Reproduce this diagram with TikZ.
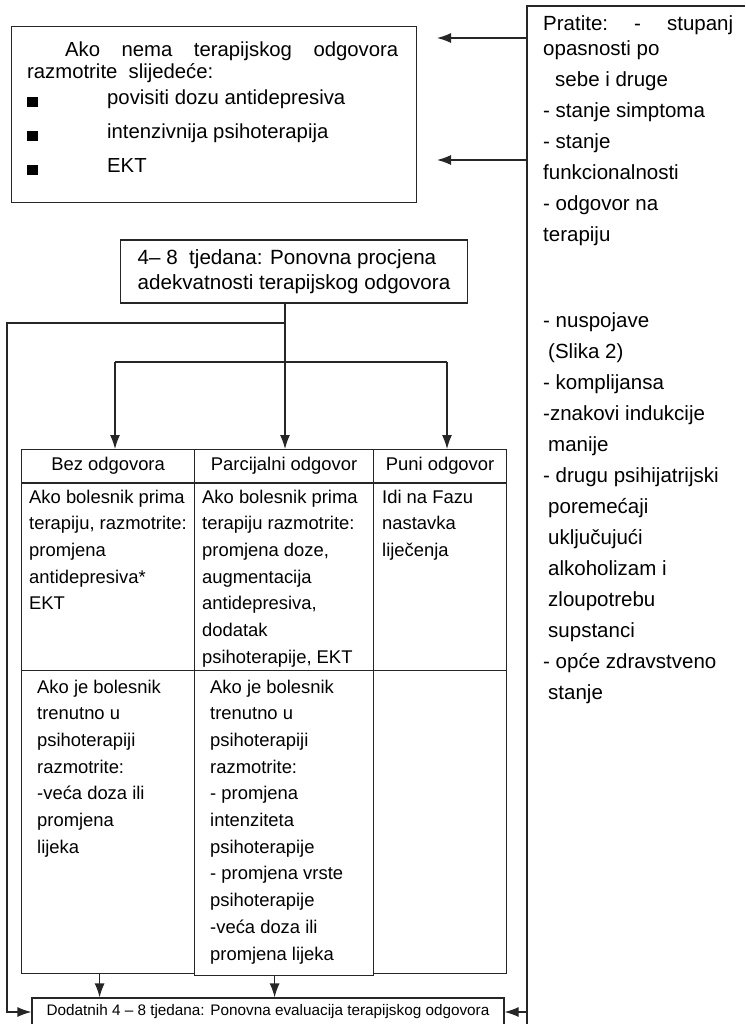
\documentclass[tikz,border=0pt]{standalone}
\usepackage{fontspec}
\setmainfont{Liberation Sans}
\usetikzlibrary{arrows.meta,positioning}

\newcommand{\sqbullet}{\raisebox{-2.5pt}{\rule{10.5pt}{10.5pt}}}

\tikzset{
	box/.style={draw=black!85, line width=1.2pt, inner sep=0pt},
	cell/.style={box, anchor=north west, font=\fontsize{18.4}{26.7}\selectfont},
	% multi-line texts sit on the baseline of their last line
	txt/.style={inner sep=0pt, align=left, anchor=base west, font=\fontsize{18.4}{26.7}\selectfont},
	ln/.style={draw=black!85, line width=1.2pt},
	arr/.style={ln, -{Latex[length=14pt,width=10pt]}},
}

\begin{document}
\begin{tikzpicture}[x=1pt, y=1pt]
	\useasboundingbox (0,0) rectangle (745,-1024);
	% upper left: what to consider
	\node[box, anchor=north west, minimum width=405pt, minimum height=176pt] (nema) at (11,-26) {};
	\node[txt, font=\fontsize{20.3}{34}\selectfont] (nematxt) at (27,-173)
		{\hbox to 371pt{\hspace*{38pt}Ako\hfill nema\hfill terapijskog\hfill odgovora}\\[-12pt]
		 razmotrite\ \ slijedeće:\\[-8pt]
		 \makebox[80pt][l]{\sqbullet}povisiti dozu antidepresiva\\
		 \makebox[80pt][l]{\sqbullet}intenzivnija psihoterapija\\
		 \makebox[80pt][l]{\sqbullet}EKT};
	% right rail
	\coordinate (railtop) at (527,-6);
	\coordinate (railend) at (745,-6);
	\coordinate (railbot) at (527,-1024);
	\draw[ln] (railend) -- (railtop) -- (railbot);
	\node[txt, font=\fontsize{20.5}{31}\selectfont] (pratite) at (543,-699)
		{\hbox to 190pt{Pratite:\hfill-\hfill stupanj}\\[-6pt]
		 opasnosti po\\
		 \hspace*{12pt}sebe i druge\\
		 - stanje simptoma\\
		 - stanje\\
		 funkcionalnosti\\
		 - odgovor na\\
		 terapiju\\[55pt]
		 - nuspojave\\
		 \hspace*{5pt}(Slika 2)\\
		 - komplijansa\\
		 -znakovi indukcije\\
		 \hspace*{5pt}manije\\
		 - drugu psihijatrijski\\
		 \hspace*{5pt}poremećaji\\
		 \hspace*{5pt}uključujući\\
		 \hspace*{5pt}alkoholizam i\\
		 \hspace*{5pt}zloupotrebu\\
		 \hspace*{5pt}supstanci\\
		 - opće zdravstveno\\
		 \hspace*{5pt}stanje};
	\coordinate (tipa) at (437,-38);
	\coordinate (tipb) at (437,-160);
	\draw[arr] (railtop |- tipa) -- (tipa);
	\draw[arr] (railtop |- tipb) -- (tipb);
	% reassessment
	\node[box, align=left, inner xsep=17pt, minimum height=63pt, font=\fontsize{20.6}{25}\selectfont] (procjena) at (294,-271.5)
		{4–\ 8\ \ tjedana: Ponovna procjena\\adekvatnosti terapijskog odgovora};
	% table
	\node[cell, minimum width=173pt, minimum height=33pt] (hbez) at (21,-449) {Bez odgovora};
	\node[cell, minimum width=179pt, minimum height=33pt] (hpar) at (194,-449) {Parcijalni odgovor};
	\node[cell, minimum width=133pt, minimum height=33pt] (hpun) at (373,-449) {Puni odgovor};
	\node[cell, minimum width=173pt, minimum height=187pt] (bez2) at (21,-483) {};
	\node[cell, minimum width=179pt, minimum height=187pt] (par2) at (194,-483) {};
	\node[cell, minimum width=133pt, minimum height=187pt] (pun2) at (373,-483) {};
	\node[cell, minimum width=173pt, minimum height=303pt] (bez3) at (21,-670) {};
	\node[cell, minimum width=179pt, minimum height=305pt] (par3) at (194,-670) {};
	\node[cell, minimum width=133pt, minimum height=303pt] (pun3) at (373,-670) {};
	\node[txt] (bez2t) at (29,-609.8)
		{Ako bolesnik prima\\terapiju, razmotrite:\\promjena\\antidepresiva*\\EKT};
	\node[txt] (par2t) at (202,-663.2)
		{Ako bolesnik prima\\terapiju razmotrite:\\promjena doze,\\augmentacija\\antidepresiva,\\dodatak\\psihoterapije, EKT};
	\node[txt] (pun2t) at (382,-556.4) {Idi na Fazu\\nastavka\\liječenja};
	\node[txt] (bez3t) at (37,-853.2)
		{Ako je bolesnik\\trenutno u\\psihoterapiji\\razmotrite:\\-veća doza ili\\promjena\\lijeka};
	\node[txt] (par3t) at (210,-960)
		{Ako je bolesnik\\trenutno u\\psihoterapiji\\razmotrite:\\- promjena\\intenziteta\\psihoterapije\\- promjena vrste\\psihoterapije\\-veća doza ili\\promjena lijeka};
	% final evaluation
	\node[box, minimum width=472pt, minimum height=28pt, font=\fontsize{15.3}{18}\selectfont] (dodatnih) at (268,-1012)
		{Dodatnih 4 – 8 tjedana: Ponovna evaluacija terapijskog odgovora};
	% connectors
	\coordinate (split) at (285,-323);
	\coordinate (leftrail) at (7,-323);
	\coordinate (fork) at (285,-362);
	\coordinate (forkl) at (115,-362);
	\coordinate (forkr) at (447,-362);
	\draw[ln] (procjena.south -| split) -- (split) -- (fork);
	\draw[arr] (split) -- (leftrail) |- (dodatnih.west);
	\draw[ln] (forkl) -- (forkr);
	\draw[arr] (forkl) -- (forkl |- hbez.north);
	\draw[arr] (fork) -- (fork |- hpar.north);
	\draw[arr] (forkr) -- (forkr |- hpun.north);
	\draw[arr] ([xshift=-8.5pt]bez3.south) -- ([xshift=-8.5pt]bez3.south |- dodatnih.north);
	\draw[arr] ([xshift=-9.5pt]par3.south) -- ([xshift=-9.5pt]par3.south |- dodatnih.north);
	\draw[arr] (railtop |- dodatnih.east) -- (dodatnih.east);
\end{tikzpicture}
\end{document}
